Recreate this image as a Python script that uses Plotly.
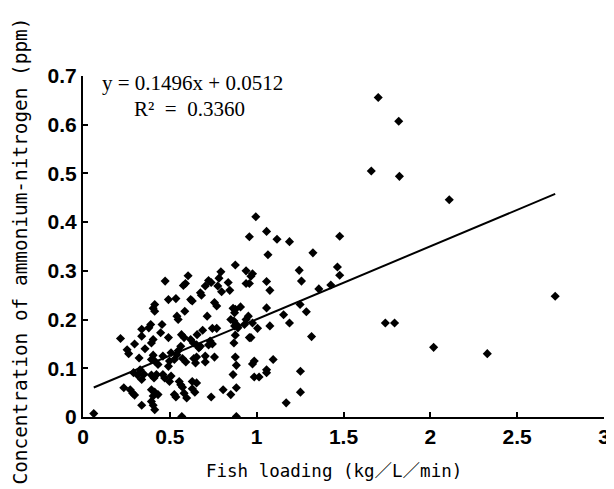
import plotly.graph_objects as go

# Fish loading (kg/L/min)
fish_loading = [
    0.062, 0.569, 0.883,
    0.605, 0.473, 0.59, 0.578, 0.676, 0.492, 0.535, 0.62, 0.629, 0.413, 0.404, 0.413, 0.586,
    0.541, 0.548, 0.39, 0.379, 0.455, 0.338, 0.447, 0.338, 0.492, 0.567, 0.582, 0.216, 0.404,
    0.394, 0.297, 0.62, 0.635, 0.654, 0.254, 0.263, 0.357, 0.563, 0.548, 0.541, 0.323, 0.404,
    0.394, 0.413, 0.46, 0.507, 0.526, 0.498, 0.492, 0.573, 0.592, 0.638, 0.654, 0.432, 0.291,
    0.315, 0.338, 0.351, 0.329, 0.394, 0.409, 0.423, 0.46, 0.47, 0.507, 0.498, 0.554, 0.563,
    0.573, 0.629, 0.654, 0.235, 0.272, 0.286, 0.297, 0.394, 0.413, 0.404, 0.432, 0.526, 0.535,
    0.582, 0.597, 0.338, 0.404, 0.394, 0.413, 0.629, 0.644,
    1.117, 1.189, 1.065, 0.877, 0.794, 0.939, 0.976, 0.967, 1.245, 0.783, 0.776, 0.723, 0.738,
    0.836, 0.704, 0.939, 0.958, 1.057, 1.258, 0.845, 0.798, 1.076, 0.682, 0.757, 0.770, 0.907,
    0.864, 0.873, 1.057, 1.25, 0.715, 1.155, 0.851, 0.869, 0.883, 0.892, 0.873, 0.939, 0.952,
    0.930, 0.976, 1.189, 0.689, 0.745, 0.770, 1.005, 1.076, 0.657, 0.877, 0.958, 0.967, 0.732,
    0.745, 0.723, 0.676, 0.667, 0.869, 0.648, 0.704, 0.704, 0.757, 0.877, 0.883, 0.986, 0.976,
    1.095, 1.057, 1.057, 0.986, 1.014, 1.252, 0.864, 0.883, 0.807, 0.851, 0.738, 1.252, 1.170,
    0.995, 0.958, 1.057, 1.324, 1.358, 0.877, 1.286,
    1.478, 1.465, 1.478, 1.427, 1.316, 1.741, 1.794, 2.019, 1.818, 1.822, 2.109, 2.328, 2.719,
    1.70, 1.66,
]
# Concentration of ammonium-nitrogen (ppm)
ammonium_n = [
    0.007, 0.001, 0.001,
    0.290, 0.279, 0.274, 0.270, 0.255, 0.241, 0.243, 0.241, 0.238, 0.231, 0.223, 0.217, 0.217,
    0.207, 0.200, 0.190, 0.183, 0.190, 0.180, 0.173, 0.166, 0.163, 0.169, 0.163, 0.161, 0.159,
    0.152, 0.150, 0.159, 0.152, 0.148, 0.138, 0.130, 0.140, 0.145, 0.136, 0.128, 0.121, 0.127,
    0.118, 0.115, 0.125, 0.132, 0.118, 0.115, 0.104, 0.120, 0.113, 0.120, 0.123, 0.108, 0.091,
    0.086, 0.077, 0.088, 0.097, 0.086, 0.080, 0.087, 0.087, 0.080, 0.084, 0.073, 0.073, 0.066,
    0.061, 0.073, 0.070, 0.060, 0.056, 0.049, 0.045, 0.056, 0.051, 0.043, 0.046, 0.046, 0.041,
    0.049, 0.039, 0.024, 0.024, 0.032, 0.015, 0.058, 0.051,
    0.365, 0.360, 0.333, 0.312, 0.298, 0.300, 0.294, 0.289, 0.301, 0.285, 0.269, 0.280, 0.276,
    0.276, 0.269, 0.274, 0.274, 0.278, 0.279, 0.260, 0.257, 0.260, 0.250, 0.235, 0.228, 0.226,
    0.223, 0.214, 0.224, 0.231, 0.207, 0.210, 0.200, 0.197, 0.190, 0.183, 0.187, 0.200, 0.207,
    0.190, 0.193, 0.193, 0.178, 0.182, 0.182, 0.182, 0.187, 0.169, 0.168, 0.163, 0.163, 0.156,
    0.150, 0.148, 0.145, 0.142, 0.152, 0.111, 0.125, 0.113, 0.123, 0.123, 0.106, 0.115, 0.109,
    0.118, 0.097, 0.091, 0.082, 0.082, 0.094, 0.087, 0.060, 0.056, 0.046, 0.041, 0.051, 0.029,
    0.411, 0.370, 0.381, 0.337, 0.263, 0.221, 0.216,
    0.371, 0.308, 0.291, 0.271, 0.165, 0.193, 0.193, 0.143, 0.607, 0.494, 0.446, 0.130, 0.248,
    0.656, 0.505,
]

slope = 0.1496
intercept = 0.0512
equation_text = "y\u00a0=\u00a00.1496x\u00a0+\u00a00.0512"
r2_text = "R²\u00a0\u00a0=\u00a0\u00a00.3360"
x_title = "Fish loading (kg／L／min)"
y_title = "Concentration of ammonium-nitrogen (ppm)"

x_tick_vals = [0, 0.5, 1, 1.5, 2, 2.5, 3]
x_tick_text = ["0", "0.5", "1", "1.5", "2", "2.5", "3"]
y_tick_vals = [0, 0.1, 0.2, 0.3, 0.4, 0.5, 0.6, 0.7]
y_tick_text = ["0", "0.1", "0.2", "0.3", "0.4", "0.5", "0.6", "0.7"]

x_line = [min(fish_loading), max(fish_loading)]
y_line = [slope * v + intercept for v in x_line]

tick_font = dict(family="Liberation Sans Narrow, Liberation Sans, Arial, sans-serif",
                 size=21, color="black", weight="bold")
mono = "DejaVu Sans Mono, Noto Sans CJK JP, monospace"
serif = "Liberation Serif, DejaVu Serif, serif"

fig = go.Figure()
fig.add_trace(go.Scatter(
    x=fish_loading, y=ammonium_n, mode="markers",
    marker=dict(symbol="diamond", size=7, color="black"),
    showlegend=False, hoverinfo="skip",
))
fig.add_trace(go.Scatter(
    x=x_line, y=y_line, mode="lines",
    line=dict(color="black", width=2),
    showlegend=False, hoverinfo="skip",
))

fig.update_layout(
    width=614, height=489,
    margin=dict(l=75, r=12, t=68, b=80),
    paper_bgcolor="white", plot_bgcolor="white",
    xaxis=dict(
        range=[0, 3], tickvals=x_tick_vals, ticktext=x_tick_text,
        ticks="inside", ticklen=5, tickwidth=1.5, tickcolor="black",
        showline=True, linecolor="black", linewidth=2, showgrid=False, zeroline=False,
        tickfont=tick_font, ticklabeloverflow="allow",
    ),
    yaxis=dict(
        range=[0, 0.7], tickvals=y_tick_vals, ticktext=y_tick_text,
        ticks="inside", ticklen=5, tickwidth=1.5, tickcolor="black",
        showline=True, linecolor="black", linewidth=2, showgrid=False, zeroline=False,
        tickfont=tick_font,
    ),
    annotations=[
        dict(x=0.5, y=0, xref="paper", yref="paper", text=x_title, showarrow=False,
             xanchor="center", yanchor="middle", xshift=-10, yshift=-54,
             font=dict(family=mono, size=17.5, color="black")),
        dict(x=0, y=0.5, xref="paper", yref="paper", text=y_title, showarrow=False,
             textangle=-90, xanchor="center", yanchor="middle", xshift=-63, yshift=-5,
             font=dict(family=mono, size=19.4, color="black")),
        dict(x=0.1, y=0.685, xref="x", yref="y", text=equation_text, showarrow=False,
             xanchor="left", yanchor="middle",
             font=dict(family=serif, size=21, color="black")),
        dict(x=0.28, y=0.632, xref="x", yref="y", text=r2_text, showarrow=False,
             xanchor="left", yanchor="middle",
             font=dict(family=serif, size=21, color="black")),
    ],
)

fig.write_html("out.html")
